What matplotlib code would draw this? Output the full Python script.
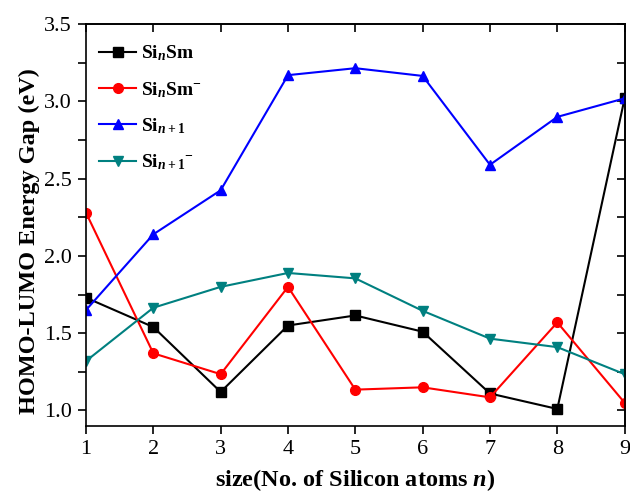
import matplotlib
matplotlib.use("Agg")
import matplotlib.pyplot as plt
from matplotlib.ticker import MultipleLocator, FormatStrFormatter

plt.rcParams['font.family'] = ['Liberation Serif', 'DejaVu Serif']
plt.rcParams['mathtext.fontset'] = 'custom'
plt.rcParams['mathtext.rm'] = 'Liberation Serif:bold'
plt.rcParams['mathtext.it'] = 'Liberation Serif:bold:italic'
plt.rcParams['mathtext.bf'] = 'Liberation Serif:bold'

sizes = [1, 2, 3, 4, 5, 6, 7, 8, 9]
si_sm = [1.73, 1.54, 1.12, 1.55, 1.615, 1.51, 1.11, 1.01, 3.02]
si_sm_anion = [2.28, 1.37, 1.235, 1.80, 1.135, 1.15, 1.085, 1.57, 1.05]
si_n1 = [1.65, 2.14, 2.425, 3.17, 3.215, 3.165, 2.59, 2.90, 3.02]
si_n1_anion = [1.32, 1.665, 1.80, 1.89, 1.855, 1.645, 1.465, 1.41, 1.235]

labels = [r'Si$_{n}$Sm', r'Si$_{n}$Sm$^{-}$', r'Si$_{n+1}$', r'Si$_{n+1}$$^{-}$']
colors = ['#000000', '#ff0000', '#0000ff', '#008080']
markers = ['s', 'o', '^', 'v']

fig = plt.figure(figsize=(6.3, 4.93), dpi=100)
ax = fig.add_axes([0.1365, 0.136, 0.855, 0.815])

for ys, lab, c, m in zip([si_sm, si_sm_anion, si_n1, si_n1_anion], labels, colors, markers):
    ax.plot(sizes, ys, color=c, marker=m, markersize=7, linewidth=1.5, label=lab)

ax.set_xlim(1, 9)
ax.set_ylim(0.9, 3.5)
ax.xaxis.set_major_locator(MultipleLocator(1))
ax.yaxis.set_major_locator(MultipleLocator(0.5))
ax.yaxis.set_minor_locator(MultipleLocator(0.25))
ax.yaxis.set_major_formatter(FormatStrFormatter('%.1f'))
ax.tick_params(axis='both', which='major', direction='out', length=6, width=1.2, labelsize=16, pad=4)
ax.tick_params(axis='both', which='minor', direction='out', length=6, width=1.2)

secx = ax.secondary_xaxis('top')
secx.xaxis.set_major_locator(MultipleLocator(1))
secx.tick_params(direction='in', length=6, width=1.2, labeltop=False)
secy = ax.secondary_yaxis('right')
secy.yaxis.set_major_locator(MultipleLocator(0.25))
secy.tick_params(direction='in', length=6, width=1.2, labelright=False)

for sp in list(ax.spines.values()):
    sp.set_linewidth(1.2)
secx.spines['top'].set_linewidth(1.2)
secy.spines['right'].set_linewidth(1.2)

ax.set_xlabel(r'size(No. of Silicon atoms $n$)', fontsize=17.5, fontweight='bold', labelpad=6)
ax.set_ylabel('HOMO-LUMO Energy Gap (eV)', fontsize=17.5, fontweight='bold')
ax.yaxis.set_label_coords(-0.085, 0.46)

leg = ax.legend(loc='upper left', bbox_to_anchor=(-0.008, 0.995), frameon=False,
                prop={'family': 'Liberation Serif', 'weight': 'bold', 'size': 14},
                handlelength=1.9, labelspacing=0.85, handletextpad=0.25)

fig.savefig('out.png', dpi=100)
